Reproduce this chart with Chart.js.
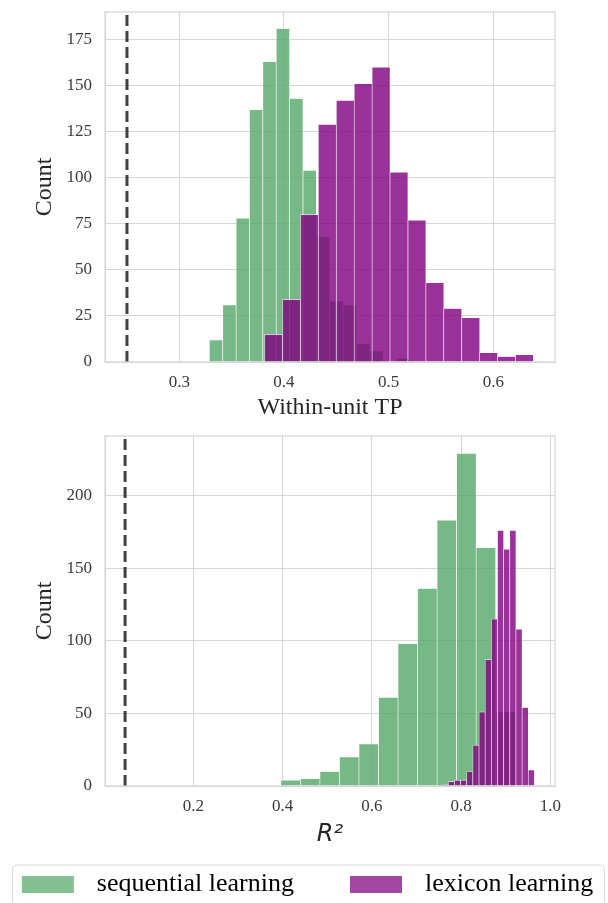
<!DOCTYPE html>
<html>
<head>
<meta charset="utf-8">
<script src="https://cdn.jsdelivr.net/npm/chart.js@4.4.1/dist/chart.umd.min.js"></script>
<style>
  html, body { margin: 0; padding: 0; background: #fff; }
  body { width: 608px; height: 903px; overflow: hidden; position: relative; }
  #top { position: absolute; left: 0; top: 0; }
  #bottom { position: absolute; left: 0; top: 420px; }
</style>
</head>
<body>
<canvas id="top" width="608" height="430"></canvas>
<canvas id="bottom" width="608" height="500"></canvas>
<script>
// within-unit TP histogram: bin centres and counts
const tpSeqBins = [0.3351, 0.3479, 0.3607, 0.3734, 0.3862, 0.3990, 0.4118, 0.4246, 0.4373, 0.4501, 0.4629, 0.4757, 0.4885, 0.5012, 0.5140];
const tpSeqCounts = [12, 31, 78, 137, 163, 181, 143, 104, 68, 33, 31, 10, 6, 0, 2];
const tpLexBins = [0.3901, 0.4072, 0.4243, 0.4414, 0.4586, 0.4757, 0.4928, 0.5099, 0.5271, 0.5442, 0.5613, 0.5785, 0.5956, 0.6127, 0.6298];
const tpLexCounts = [15, 34, 80, 129, 142, 151, 160, 103, 77, 43, 29, 24, 5, 3, 4];
const tpChance = 0.25;

// R^2 histogram
const r2SeqBins = [0.4181, 0.4619, 0.5056, 0.5494, 0.5931, 0.6369, 0.6806, 0.7244, 0.7681, 0.8119, 0.8556, 0.8994];
const r2SeqCounts = [4, 5, 10, 20, 29, 61, 98, 136, 183, 229, 164, 51];
const r2LexBins = [0.7643, 0.7781, 0.7919, 0.8057, 0.8195, 0.8333, 0.8471, 0.8609, 0.8747, 0.8885, 0.9023, 0.9161, 0.9299, 0.9437, 0.9575];
const r2LexCounts = [1, 3, 4, 4, 10, 28, 51, 87, 115, 176, 163, 176, 108, 54, 11];
const r2Chance = 0.047;

const seriesNames = ['sequential learning', 'lexicon learning'];

const barColors = ['rgba(85,168,104,0.8)', 'rgba(128,0,128,0.8)'];
const patchColors = ['rgba(85,168,104,0.72)', 'rgba(128,0,128,0.72)'];
const gridColor = '#d6d6d6';
const tickColor = '#3a3a3a';
const titleColor = '#262626';
const serif = 'Liberation Serif';

Chart.defaults.animation = false;
Chart.defaults.responsive = false;

// light grey box round the plot, like the seaborn spines
const framePlugin = {
    id: 'frame',
    afterDatasetsDraw(chart) {
        const a = chart.chartArea;
        const ctx = chart.ctx;
        ctx.save();
        ctx.strokeStyle = gridColor;
        ctx.lineWidth = 1.25;
        ctx.strokeRect(a.left, a.top, a.right - a.left, a.bottom - a.top);
        ctx.restore();
    }
};

// rounded border around the legend
const legendBoxPlugin = {
    id: 'legendBox',
    afterDraw(chart) {
        const lg = chart.legend;
        const ctx = chart.ctx;
        ctx.save();
        ctx.strokeStyle = '#d9d9d9';
        ctx.lineWidth = 1;
        ctx.beginPath();
        ctx.roundRect(12.5, lg.top + 3.5, 592, 120, 4);
        ctx.stroke();
        ctx.restore();
    }
};

function makePatch(color) {
    let c = document.createElement('canvas');
    c.width = 69;
    c.height = 17;
    let g = c.getContext('2d');
    g.fillStyle = color;
    g.fillRect(7, 0, 52, 17);
    return c;
}
const patches = patchColors.map(makePatch);

function histChart(canvas, o) {
    let toPoints = (bins, counts) => bins.map((x, i) => ({x: x, y: counts[i]}));
    // higher order is drawn first, so lexicon bars sit over the sequential ones
    let barSet = (i, bins, counts, axis) => ({
        label: seriesNames[i],
        data: toPoints(bins, counts),
        xAxisID: axis,
        order: 2 - i,
        backgroundColor: barColors[i],
        borderColor: 'rgba(255,255,255,0.85)',
        borderWidth: 0.6,
        barPercentage: 1,
        categoryPercentage: 1,
        grouped: false,
    });

    return new Chart(canvas, {
        type: 'bar',
        data: {
            datasets: [
                barSet(0, o.seqBins, o.seqCounts, 'x'),
                barSet(1, o.lexBins, o.lexCounts, 'x2'),
                {
                    type: 'line',
                    label: 'chance',
                    data: [{x: o.chance, y: 0}, {x: o.chance, y: o.yMax}],
                    xAxisID: 'x',
                    order: 0,
                    borderColor: 'rgba(30,30,30,0.85)',
                    borderWidth: 3,
                    borderDash: [11, 5],
                    pointRadius: 0,
                    fill: false,
                },
            ],
        },
        options: {
            layout: { padding: o.padding },
            plugins: {
                legend: o.legend || { display: false },
                tooltip: { enabled: false },
            },
            scales: {
                x: {
                    type: 'linear',
                    min: o.xMin,
                    max: o.xMax,
                    offset: false,
                    grid: { color: gridColor, drawTicks: false, offset: false },
                    border: { color: gridColor },
                    ticks: {
                        stepSize: o.xStep,
                        includeBounds: false,
                        padding: 10,
                        color: tickColor,
                        font: { family: serif, size: 17 },
                        callback: v => v.toFixed(1),
                    },
                    title: {
                        display: true,
                        text: o.xTitle,
                        color: titleColor,
                        font: o.xTitleFont,
                        padding: { top: 0, bottom: o.xTitlePad },
                    },
                    afterFit: s => { s.height = o.xAxisHeight; s.paddingLeft = 0; s.paddingRight = 0; },
                },
                x2: {
                    type: 'linear',
                    display: false,
                    min: o.xMin,
                    max: o.xMax,
                    offset: false,
                    grid: { offset: false },
                    ticks: { stepSize: o.xStep, includeBounds: false },
                },
                y: {
                    min: 0,
                    max: o.yMax,
                    grid: { color: gridColor, drawTicks: false },
                    border: { color: gridColor },
                    ticks: {
                        stepSize: o.yStep,
                        includeBounds: false,
                        padding: 13,
                        color: tickColor,
                        font: { family: serif, size: 17 },
                    },
                    title: {
                        display: true,
                        text: 'Count',
                        color: titleColor,
                        font: { family: serif, size: 24 },
                        padding: { top: 30.6, bottom: 0 },
                    },
                    afterFit: s => { s.width = 105; s.paddingTop = 0; s.paddingBottom = 0; },
                },
                ...(o.extraScales || {}),
            },
        },
        plugins: o.plugins,
    });
}

histChart(document.getElementById('top'), {
    seqBins: tpSeqBins, seqCounts: tpSeqCounts,
    lexBins: tpLexBins, lexCounts: tpLexCounts,
    chance: tpChance,
    xMin: 0.229, xMax: 0.659, xStep: 0.1,
    yMax: 190, yStep: 25,
    xTitle: 'Within-unit TP',
    xTitleFont: { family: serif, size: 24 },
    xTitlePad: 7.6,
    xAxisHeight: 68,
    padding: { top: 12, right: 53, bottom: 0, left: 0 },
    plugins: [framePlugin],
});

histChart(document.getElementById('bottom'), {
    seqBins: r2SeqBins, seqCounts: r2SeqCounts,
    lexBins: r2LexBins, lexCounts: r2LexCounts,
    chance: r2Chance,
    xMin: 0.002, xMax: 1.0105, xStep: 0.2,
    yMax: 241, yStep: 50,
    xTitle: 'R\u00b2',
    xTitleFont: { family: 'DejaVu Sans', style: 'italic', size: 24 },
    xTitlePad: 12.1,
    xAxisHeight: 75.5,
    padding: { top: 16, right: 0, bottom: 12.5, left: 0 },
    // empty right axis keeps the plot edge at the same place as above
    extraScales: {
        yRight: {
            position: 'right',
            grid: { display: false },
            border: { display: false },
            ticks: { display: false },
            afterFit: s => { s.width = 53; },
        },
    },
    legend: {
        display: true,
        position: 'bottom',
        labels: {
            usePointStyle: true,
            pointStyleWidth: 69,
            padding: 10,
            color: titleColor,
            font: { family: serif, size: 26 },
            generateLabels: () => seriesNames.map((name, i) => ({
                text: i === 0 ? name + '      ' : name,
                fillStyle: patchColors[i],
                strokeStyle: 'rgba(0,0,0,0)',
                lineWidth: 0,
                pointStyle: patches[i],
                hidden: false,
                datasetIndex: i,
            })),
        },
    },
    plugins: [framePlugin, legendBoxPlugin],
});
</script>
</body>
</html>
